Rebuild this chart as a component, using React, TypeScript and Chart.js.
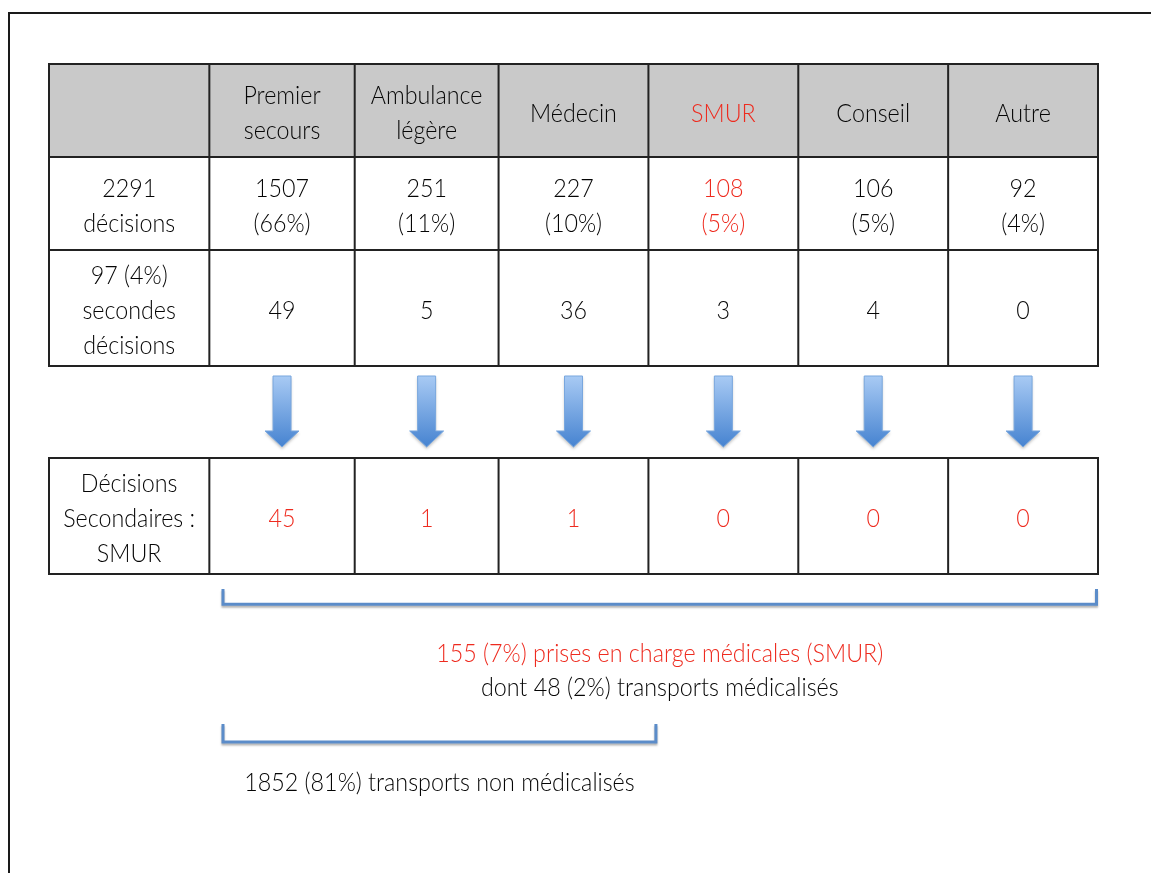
import React, { useEffect, useRef } from "react";
import { Chart, registerables } from "chart.js";
Chart.register(...registerables);

// ---- Data ----
const categories = ["Premier\nsecours", "Ambulance\nlégère", "Médecin", "SMUR", "Conseil", "Autre"];
const decisions = [1507, 251, 227, 108, 106, 92];
const decisionPct = [66, 11, 10, 5, 5, 4];
const secondDecisions = [49, 5, 36, 3, 4, 0];
const secondarySmur = [45, 1, 1, 0, 0, 0];
const rowLabels = ["2291\ndécisions", "97 (4%)\nsecondes\ndécisions", "Décisions\nSecondaires :\nSMUR"];
const highlightCategory = "SMUR";
const medicalSummary = ["155 (7%) prises en charge médicales (SMUR)", "dont 48 (2%) transports médicalisés"];
const nonMedicalSummary = "1852 (81%) transports non médicalisés";

// ---- Styles ----
const RED = "#ee2b1f";
const INK = "#050505";
const FONT = "300 26px Lato, 'Open Sans', sans-serif";

const tablePlugin = {
  id: "decisionTable",
  afterDraw(chart: any) {
    const ctx: CanvasRenderingContext2D = chart.ctx;
    const xs = chart.scales.x;
    const ys = chart.scales.y;
    const X = (v: number) => xs.getPixelForValue(v);
    const Y = (v: number) => ys.getPixelForValue(v);

    // column edges (x units) and row edges (y units)
    const colEdges = [0, 1.07, 2.04, 3.0, 4.0, 5.0, 6.0, 7.0];
    const t1Rows = [0, 1, 2, 3.247];
    const t2Rows = [4.237, 5.484];

    ctx.save();
    ctx.font = FONT;
    const ref = ctx.measureText(medicalSummary[0]).width;
    const sx = Math.max(0.65, Math.min(1, 447 / ref));

    const text = (s: string, x: number, y: number, color: string, dy = 3) => {
      const lines = s.split("\n");
      const lh = 35;
      ctx.fillStyle = color;
      ctx.textAlign = "center";
      ctx.textBaseline = "middle";
      lines.forEach((ln, i) => {
        const yy = y + (i - (lines.length - 1) / 2) * lh + dy;
        ctx.save();
        ctx.translate(x, yy);
        ctx.scale(sx, 1);
        ctx.fillText(ln, 0, 0);
        ctx.restore();
      });
    };

    // outer frame
    ctx.strokeStyle = "#1a1a1a";
    ctx.lineWidth = 2;
    ctx.beginPath();
    ctx.moveTo(9, chart.height + 5);
    ctx.lineTo(9, 13);
    ctx.lineTo(chart.width + 5, 13);
    ctx.stroke();

    // header fill
    ctx.fillStyle = "#c9c9c9";
    ctx.fillRect(X(colEdges[0]), Y(t1Rows[0]), X(colEdges[7]) - X(colEdges[0]), Y(t1Rows[1]) - Y(t1Rows[0]));

    const grid = (rows: number[]) => {
      ctx.strokeStyle = "#222";
      ctx.lineWidth = 2;
      ctx.beginPath();
      rows.forEach((r) => {
        ctx.moveTo(X(colEdges[0]) - 1, Y(r));
        ctx.lineTo(X(colEdges[7]) + 1, Y(r));
      });
      colEdges.forEach((c) => {
        ctx.moveTo(X(c), Y(rows[0]));
        ctx.lineTo(X(c), Y(rows[rows.length - 1]));
      });
      ctx.stroke();
    };
    grid(t1Rows);
    grid(t2Rows);

    const cx = (i: number) => (X(colEdges[i]) + X(colEdges[i + 1])) / 2;
    const cy = (a: number, b: number) => (Y(a) + Y(b)) / 2;

    // header
    categories.forEach((c, i) => {
      text(c, cx(i + 1), cy(t1Rows[0], t1Rows[1]), c === highlightCategory ? RED : INK);
    });
    // row labels
    text(rowLabels[0], cx(0), cy(t1Rows[1], t1Rows[2]), INK);
    text(rowLabels[1], cx(0), cy(t1Rows[2], t1Rows[3]), INK);
    text(rowLabels[2], cx(0), cy(t2Rows[0], t2Rows[1]), INK);
    // values
    decisions.forEach((v, i) => {
      const col = categories[i] === highlightCategory ? RED : INK;
      text(`${v}\n(${decisionPct[i]}%)`, cx(i + 1), cy(t1Rows[1], t1Rows[2]), col);
    });
    secondDecisions.forEach((v, i) => {
      text(String(v), cx(i + 1), cy(t1Rows[2], t1Rows[3]), INK);
    });
    secondarySmur.forEach((v, i) => {
      text(String(v), cx(i + 1), cy(t2Rows[0], t2Rows[1]), RED);
    });

    // arrows
    const aTop = Y(3.355), aShaft = Y(3.946), aTip = Y(4.118);
    categories.forEach((_, i) => {
      const x = cx(i + 1);
      const g = ctx.createLinearGradient(0, aTop, 0, aTip);
      g.addColorStop(0, "#a8caf4");
      g.addColorStop(1, "#4683d0");
      ctx.save();
      ctx.shadowColor = "rgba(0,0,0,0.25)";
      ctx.shadowBlur = 3;
      ctx.shadowOffsetY = 2;
      ctx.beginPath();
      ctx.moveTo(x - 9, aTop);
      ctx.lineTo(x + 9, aTop);
      ctx.lineTo(x + 9, aShaft);
      ctx.lineTo(x + 17, aShaft);
      ctx.lineTo(x, aTip);
      ctx.lineTo(x - 17, aShaft);
      ctx.lineTo(x - 9, aShaft);
      ctx.closePath();
      ctx.fillStyle = g;
      ctx.fill();
      ctx.restore();
      ctx.strokeStyle = "#79a7de";
      ctx.lineWidth = 1;
      ctx.stroke();
    });

    // brackets
    const bracket = (x0: number, x1: number, yTop: number, yBot: number) => {
      ctx.save();
      ctx.strokeStyle = "#5b8cc9";
      ctx.lineWidth = 3;
      ctx.shadowColor = "rgba(0,0,0,0.3)";
      ctx.shadowBlur = 2;
      ctx.shadowOffsetY = 2;
      ctx.beginPath();
      ctx.moveTo(X(x0), Y(yTop));
      ctx.lineTo(X(x0), Y(yBot));
      ctx.lineTo(X(x1), Y(yBot));
      ctx.lineTo(X(x1), Y(yTop));
      ctx.stroke();
      ctx.restore();
    };
    bracket(1.161, 6.99, 5.645, 5.81);
    bracket(1.161, 4.05, 7.097, 7.29);

    const midBig = (X(1.161) + X(6.99)) / 2;
    text(medicalSummary[0], midBig, Y(6.333), RED, 1);
    text(medicalSummary[1], midBig, Y(6.699), INK, 1);
    const midSmall = (X(1.161) + X(4.05)) / 2;
    text(nonMedicalSummary, midSmall, Y(7.72), INK, 1);

    ctx.restore();
  },
};

export default function App() {
  const ref = useRef<HTMLCanvasElement | null>(null);
  useEffect(() => {
    document.body.style.margin = "0";
    const canvas = ref.current!;
    const chart = new Chart(canvas, {
      type: "scatter",
      data: { datasets: [{ data: [], pointRadius: 0 }] },
      options: {
        responsive: false,
        animation: false,
        devicePixelRatio: 1,
        layout: { padding: { left: 49, right: 53, top: 64, bottom: 299 } },
        plugins: { legend: { display: false }, tooltip: { enabled: false } },
        scales: {
          x: { type: "linear", min: 0, max: 7, display: false },
          y: { type: "linear", min: 0, max: 5.484, reverse: true, display: false },
        },
      },
      plugins: [tablePlugin],
    });
    return () => chart.destroy();
  }, []);
  return (
    <div style={{ width: 1151, height: 873, background: "#fff" }}>
      <canvas ref={ref} width={1151} height={873} style={{ display: "block" }} />
    </div>
  );
}
